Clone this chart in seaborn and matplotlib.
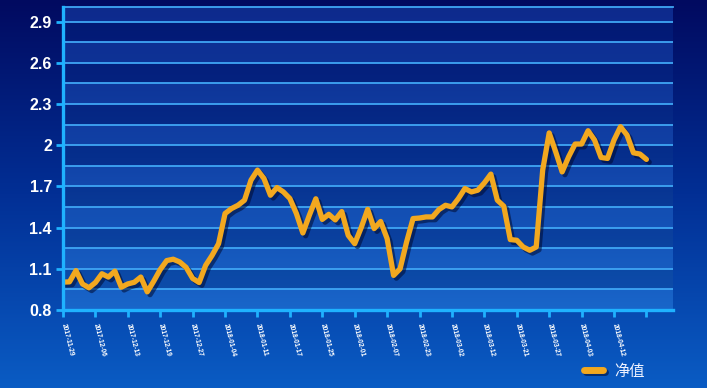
import numpy as np
import pandas as pd
import seaborn as sns
import matplotlib
matplotlib.use("Agg")
import matplotlib.pyplot as plt
from matplotlib import patheffects as pe
from matplotlib.colors import LinearSegmentedColormap

# ---------------- data ----------------
nav = [1.003, 1.005, 1.087, 0.990, 0.962, 1.000, 1.064, 1.040, 1.083, 0.966,
       0.990, 1.002, 1.040, 0.932, 1.010, 1.095, 1.160, 1.170, 1.150, 1.110,
       1.030, 1.000, 1.125, 1.198, 1.283, 1.503, 1.539, 1.563, 1.600, 1.746,
       1.819, 1.758, 1.636, 1.692, 1.660, 1.612, 1.503, 1.361, 1.490, 1.610,
       1.460, 1.497, 1.456, 1.517, 1.344, 1.283, 1.400, 1.533, 1.393, 1.445,
       1.320, 1.052, 1.100, 1.295, 1.466, 1.470, 1.478, 1.478, 1.532, 1.563,
       1.551, 1.612, 1.685, 1.660, 1.673, 1.726, 1.790, 1.600, 1.556, 1.313,
       1.308, 1.259, 1.235, 1.259, 1.820, 2.090, 1.953, 1.806, 1.916, 2.009,
       2.009, 2.106, 2.038, 1.911, 1.904, 2.038, 2.135, 2.075, 1.945, 1.936,
       1.897]
tick_labels = ["2017-11-29", "2017-12-06", "2017-12-13", "2017-12-19", "2017-12-27",
               "2018-01-04", "2018-01-11", "2018-01-17", "2018-01-25", "2018-02-01",
               "2018-02-07", "2018-02-23", "2018-03-02", "2018-03-12", "2018-03-21",
               "2018-03-27", "2018-04-03", "2018-04-12", ""]
y_ticks = [0.8, 1.1, 1.4, 1.7, 2.0, 2.3, 2.6, 2.9]
y_tick_labels = ["0.8", "1.1", "1.4", "1.7", "2", "2.3", "2.6", "2.9"]
series_name = "净值"

df = pd.DataFrame({"idx": np.arange(len(nav)), "value": nav})

# ---------------- figure ----------------
W, H = 707, 388
fig = plt.figure(figsize=(W / 100, H / 100), dpi=100)

# figure background gradient
bg = fig.add_axes([0, 0, 1, 1], zorder=-2)
bg_cmap = LinearSegmentedColormap.from_list("bg", ["#010a60", "#022f95", "#0a5cc4"])
grad = np.linspace(0, 1, 256).reshape(-1, 1)
bg.imshow(grad, cmap=bg_cmap, aspect="auto", extent=[0, 1, 0, 1], origin="upper")
bg.set_axis_off()

left, right = 63 / W, 673 / W
bottom, top = 1 - 310 / H, 1 - 7.3 / H
ax = fig.add_axes([left, bottom, right - left, top - bottom])
ax.set_facecolor("none")

XMAX, YMIN, YMAX = 94.1, 0.8, 3.005
ax.set_xlim(0, XMAX)
ax.set_ylim(YMIN, YMAX)

# plot-area gradient
pa_cmap = LinearSegmentedColormap.from_list("pa", ["#031a7c", "#08379c", "#1160c4"])
ax.imshow(grad, cmap=pa_cmap, aspect="auto", extent=[0, XMAX, YMIN, YMAX],
          origin="upper", zorder=0)

# alternating bands
levels = np.round(np.arange(0.8, 3.0, 0.15), 3)
for k, lv in enumerate(levels):
    hi = min(lv + 0.15, YMAX)
    if k % 2 == 0:
        ax.axhspan(lv, hi, color="#4a8cf0", alpha=0.14, lw=0, zorder=0.5)
    else:
        ax.axhspan(lv, hi, color="#000640", alpha=0.16, lw=0, zorder=0.5)
for lv in levels[1:]:
    ax.axhline(lv, color="#3fa6f5", lw=1.3, zorder=1)

# line
sns.lineplot(data=df, x="idx", y="value", ax=ax, color="#f2a81f", linewidth=3.8,
             label=series_name, zorder=3)
line = ax.get_lines()[-1]
line.set_solid_joinstyle("round")
line.set_solid_capstyle("round")
line.set_path_effects([pe.SimpleLineShadow(offset=(2, -2), shadow_color="#000a30", alpha=0.55),
                       pe.Normal()])

# axes styling
ax.set_xlabel("")
ax.set_ylabel("")
for s in ["left", "bottom"]:
    ax.spines[s].set_color("#1fb2ff")
    ax.spines[s].set_linewidth(2.4)
    ax.spines[s].set_zorder(4)
ax.spines["top"].set_color("#3fa6f5")
ax.spines["top"].set_linewidth(1.3)
ax.spines["right"].set_visible(False)

ax.set_yticks(y_ticks)
ax.set_yticklabels(y_tick_labels)
ax.set_xticks(np.arange(0, len(nav), 5))
ax.set_xticklabels(tick_labels)
ax.tick_params(axis="y", colors="#1fb2ff", length=5, width=2, pad=3, labelcolor="white")
ax.tick_params(axis="x", colors="#1fb2ff", length=5, width=2, pad=5, labelcolor="white")
for t in ax.get_yticklabels():
    t.set_fontfamily(["Liberation Sans", "DejaVu Sans"])
    t.set_fontweight("bold")
    t.set_fontsize(11.5)
for t in ax.get_xticklabels():
    t.set_fontfamily(["Liberation Sans", "DejaVu Sans"])
    t.set_fontweight("bold")
    t.set_fontsize(4.8)
    t.set_rotation(-76)
    t.set_rotation_mode("anchor")
    t.set_ha("left")
    t.set_va("center")

# legend
leg = ax.legend(loc="center left", bbox_to_anchor=(584 / W, 1 - 371 / H),
                bbox_transform=fig.transFigure, frameon=False, handlelength=1.25,
                handletextpad=0.75, borderaxespad=0, borderpad=0,
                prop={"family": ["Noto Sans CJK SC", "DejaVu Sans"], "size": 11})
for txt in leg.get_texts():
    txt.set_color("#eef2ff")
for h in leg.get_lines():
    h.set_linewidth(5)
    h.set_solid_capstyle("round")
    h.set_path_effects([pe.SimpleLineShadow(offset=(1.5, -1.5), shadow_color="#000a30", alpha=0.55),
                        pe.Normal()])

fig.savefig("out.png", dpi=100)
